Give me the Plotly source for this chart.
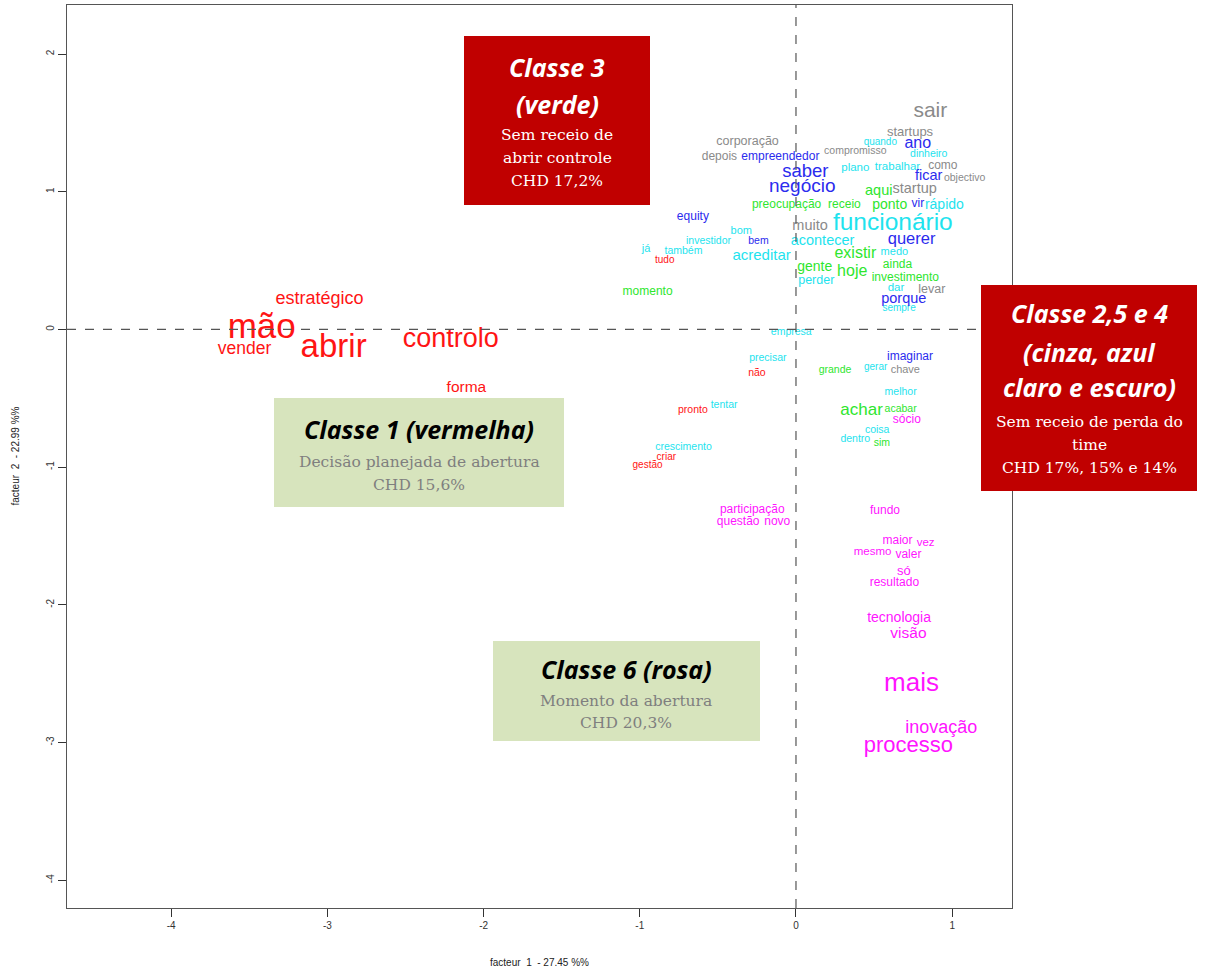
import plotly.graph_objects as go

# ---- word coordinates on the two factors, grouped by class ----
red_words = ["mão", "abrir", "controlo", "estratégico", "vender", "forma",
             "tudo", "não", "pronto", "criar", "gestão"]
red_x = [-3.42, -2.96, -2.21, -3.05, -3.53, -2.11, -0.84, -0.25, -0.66, -0.83, -0.95]
red_y = [0.00, -0.14, -0.08, 0.22, -0.15, -0.43, 0.50, -0.32, -0.59, -0.93, -0.99]
red_size = [35, 33, 27, 18, 17.5, 15.5, 10, 10.5, 10.5, 10, 10]

green_words = ["momento", "preocupação", "receio", "aqui", "ponto", "gente", "existir",
               "hoje", "ainda", "investimento", "grande", "achar", "acabar", "sim"]
green_x = [-0.95, -0.06, 0.31, 0.53, 0.60, 0.12, 0.38, 0.36, 0.65, 0.70, 0.25, 0.42, 0.67, 0.55]
green_y = [0.27, 0.90, 0.90, 1.00, 0.90, 0.45, 0.55, 0.42, 0.47, 0.37, -0.30, -0.59, -0.58, -0.83]
green_size = [12, 12, 12, 14.5, 14, 14, 16, 16, 12, 12, 10.5, 17, 10.5, 10.5]

cyan_words = ["crescimento", "tentar", "precisar", "empresa", "já", "também", "investidor",
              "bom", "acreditar", "acontecer", "perder", "funcionário", "medo", "dar",
              "sempre", "rápido", "quando", "dinheiro", "plano", "trabalhar", "melhor",
              "gerar", "coisa", "dentro"]
cyan_x = [-0.72, -0.46, -0.18, -0.03, -0.96, -0.72, -0.56, -0.35, -0.22, 0.17, 0.13, 0.62,
          0.63, 0.64, 0.66, 0.95, 0.54, 0.85, 0.38, 0.65, 0.67, 0.51, 0.52, 0.38]
cyan_y = [-0.86, -0.55, -0.21, -0.02, 0.58, 0.57, 0.64, 0.71, 0.53, 0.64, 0.35, 0.77,
          0.56, 0.30, 0.15, 0.90, 1.36, 1.27, 1.17, 1.18, -0.46, -0.28, -0.73, -0.80]
cyan_size = [10.5, 10.5, 10.5, 10.5, 11, 10.5, 10.5, 11, 15, 14.5, 12.5, 24.5,
             11, 11.5, 10, 14, 10, 10.5, 11.5, 11.5, 10.5, 10, 10.5, 10.5]

blue_words = ["empreendedor", "saber", "negócio", "equity", "bem", "ano", "ficar",
              "vir", "querer", "porque", "imaginar"]
blue_x = [-0.10, 0.06, 0.04, -0.66, -0.24, 0.78, 0.85, 0.78, 0.74, 0.69, 0.73]
blue_y = [1.25, 1.14, 1.03, 0.82, 0.64, 1.35, 1.11, 0.91, 0.65, 0.22, -0.20]
blue_size = [12, 18.5, 19, 12, 10.5, 16, 14.5, 12, 16.5, 14.5, 12]

grey_words = ["corporação", "depois", "compromisso", "sair", "startups", "como",
              "objectivo", "startup", "muito", "levar", "chave"]
grey_x = [-0.31, -0.49, 0.38, 0.86, 0.73, 0.94, 1.08, 0.76, 0.09, 0.87, 0.70]
grey_y = [1.36, 1.25, 1.29, 1.58, 1.43, 1.19, 1.10, 1.02, 0.75, 0.29, -0.30]
grey_size = [12.5, 12, 10.5, 21, 13, 12, 10.5, 14.5, 14.5, 12.5, 11]

pink_words = ["sócio", "participação", "questão", "novo", "fundo", "maior", "vez",
              "mesmo", "valer", "só", "resultado", "tecnologia", "visão", "mais",
              "inovação", "processo"]
pink_x = [0.71, -0.28, -0.37, -0.12, 0.57, 0.65, 0.83, 0.49, 0.72, 0.69, 0.63,
          0.66, 0.72, 0.74, 0.93, 0.72]
pink_y = [-0.66, -1.31, -1.40, -1.40, -1.32, -1.54, -1.55, -1.62, -1.64, -1.76, -1.84,
          -2.10, -2.21, -2.58, -2.90, -3.03]
pink_size = [12, 12, 12, 12, 12, 12, 11.5, 11.5, 12, 13, 12, 14, 15.5, 26, 18, 22]

x_ticks = [-4, -3, -2, -1, 0, 1]
y_ticks = [-4, -3, -2, -1, 0, 1, 2]
x_title = "facteur  1  - 27.45 %%"
y_title = "facteur  2  - 22.99 %%"

classes = [
    (red_words, red_x, red_y, red_size, "#FF1414"),
    (green_words, green_x, green_y, green_size, "#2EE62E"),
    (cyan_words, cyan_x, cyan_y, cyan_size, "#1EE3EE"),
    (blue_words, blue_x, blue_y, blue_size, "#2B2BEE"),
    (grey_words, grey_x, grey_y, grey_size, "#8A8A8A"),
    (pink_words, pink_x, pink_y, pink_size, "#FF14FF"),
]

# ---- page geometry ----
W, H = 1211, 972
ML, MR, MT, MB = 67, 199, 5, 64
PW, PH = W - ML - MR, H - MT - MB


def px(xp):
    return (xp - ML) / PW


def py(yp):
    return (H - MB - yp) / PH


fig = go.Figure()
for words, xs, ys, sizes, col in classes:
    fig.add_trace(go.Scatter(
        x=xs, y=ys, text=words, mode="text", textposition="middle center",
        textfont=dict(family="Liberation Sans, Arial, sans-serif", size=sizes, color=col),
        hoverinfo="text", showlegend=False, cliponaxis=False,
    ))

shapes = [
    dict(type="line", xref="x", yref="paper", x0=0, x1=0, y0=0, y1=1,
         line=dict(color="#555555", width=1.2, dash="dash")),
    dict(type="line", xref="paper", yref="y", x0=0, x1=1, y0=0, y1=0,
         line=dict(color="#555555", width=1.2, dash="dash")),
]

# class caption boxes: (left, top, right, bottom) in page pixels, fill colour
boxes = [
    ((464, 36, 650, 205), "#C00000"),
    ((981, 285, 1197, 491), "#C00000"),
    ((274, 398, 564, 507), "#D7E4BD"),
    ((493, 641, 760, 741), "#D7E4BD"),
]
for (l, t, r, b), fill in boxes:
    shapes.append(dict(type="rect", xref="paper", yref="paper",
                       x0=px(l), x1=px(r), y0=py(b), y1=py(t),
                       fillcolor=fill, line=dict(width=0), layer="above"))

HEAD = "Open Sans, Liberation Sans, sans-serif"
BODY = "DejaVu Serif, Liberation Serif, serif"
HS, BS = 25, 15.5
# caption lines: (text, centre x, centre y, font, size, colour, bold-italic)
captions = [
    ("Classe 3", 557, 67, HEAD, HS, "white", True),
    ("(verde)", 557, 104, HEAD, HS, "white", True),
    ("Sem receio de", 557, 135, BODY, BS, "white", False),
    ("abrir controle", 557, 158, BODY, BS, "white", False),
    ("CHD 17,2%", 557, 181, BODY, BS, "white", False),
    ("Classe 2,5 e 4", 1089, 313, HEAD, HS, "white", True),
    ("(cinza, azul", 1089, 352, HEAD, HS, "white", True),
    ("claro e escuro)", 1089, 387, HEAD, HS, "white", True),
    ("Sem receio de perda do", 1089, 422, BODY, BS, "white", False),
    ("time", 1089, 445, BODY, BS, "white", False),
    ("CHD 17%, 15% e 14%", 1089, 468, BODY, BS, "white", False),
    ("Classe 1 (vermelha)", 419, 429, HEAD, HS, "black", True),
    ("Decisão planejada de abertura", 419, 462, BODY, BS, "#7F7F7F", False),
    ("CHD 15,6%", 419, 485, BODY, BS, "#7F7F7F", False),
    ("Classe 6 (rosa)", 626, 669, HEAD, HS, "black", True),
    ("Momento da abertura", 626, 701, BODY, BS, "#7F7F7F", False),
    ("CHD 20,3%", 626, 723, BODY, BS, "#7F7F7F", False),
]
annotations = []
for text, cx, cy, fam, size, col, bi in captions:
    annotations.append(dict(
        text=f"<b><i>{text}</i></b>" if bi else text,
        xref="paper", yref="paper", x=px(cx), y=py(cy),
        xanchor="center", yanchor="middle", showarrow=False,
        font=dict(family=fam, size=size, color=col),
    ))

annotations.append(dict(text=x_title, xref="paper", yref="paper", x=0.5, y=py(962),
                        xanchor="center", yanchor="middle", showarrow=False,
                        font=dict(family="Liberation Sans, Arial", size=10, color="#222")))
annotations.append(dict(text=y_title, xref="paper", yref="paper", x=px(15), y=0.5,
                        xanchor="center", yanchor="middle", showarrow=False, textangle=-90,
                        font=dict(family="Liberation Sans, Arial", size=10, color="#222")))

axis_common = dict(showgrid=False, zeroline=False, showline=True, mirror=True,
                   linecolor="#555555", linewidth=1.2, ticks="outside", ticklen=8,
                   tickcolor="#333333", tickwidth=1,
                   tickfont=dict(family="Liberation Sans, Arial", size=10, color="#333"))

fig.update_layout(
    width=W, height=H,
    margin=dict(l=ML, r=MR, t=MT, b=MB),
    paper_bgcolor="white", plot_bgcolor="white",
    xaxis=dict(range=[-4.667, 1.383], tickvals=x_ticks,
               ticktext=[str(v) for v in x_ticks], **axis_common),
    yaxis=dict(range=[-4.202, 2.356], tickvals=y_ticks,
               ticktext=[str(v) for v in y_ticks], tickangle=-90, **axis_common),
    shapes=shapes, annotations=annotations,
)

fig.write_html("out.html")
